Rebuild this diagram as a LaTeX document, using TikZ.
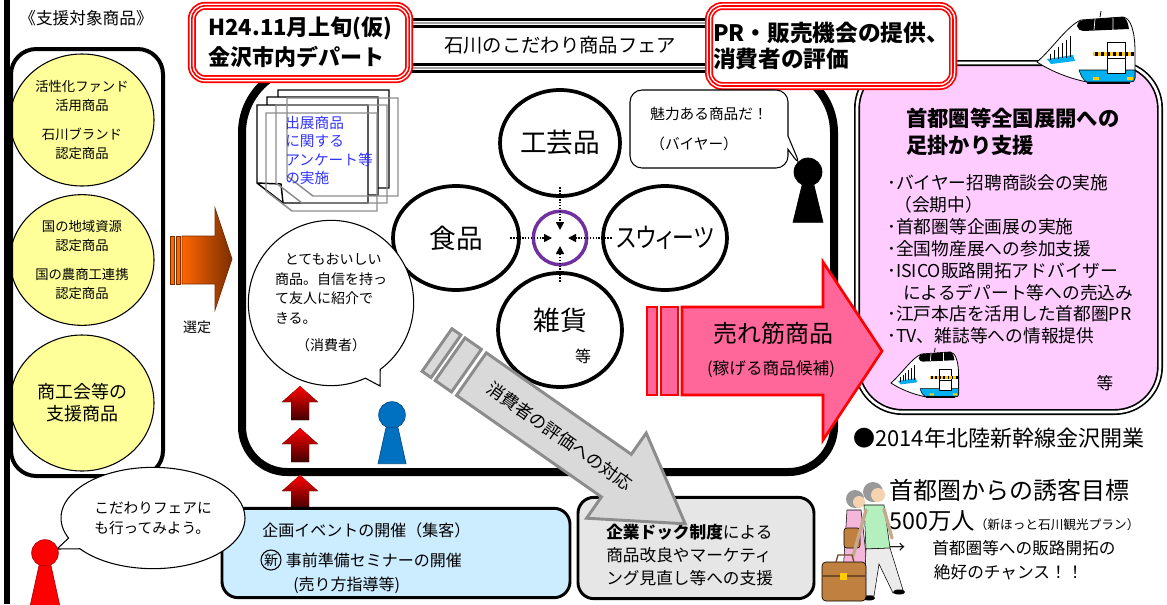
\documentclass[tikz,border=0pt]{standalone}
\usepackage{fontspec}
\usepackage{graphicx}
\setmainfont{Noto Sans CJK JP}
\usetikzlibrary{positioning,shapes.geometric,shapes.callouts,arrows.meta,calc}

\newcommand\fsz[2]{\fontsize{#1}{#2}\selectfont}

\definecolor{fairred}{HTML}{FF0000}
\definecolor{lemon}{HTML}{FFFF99}
\definecolor{lilac}{HTML}{FFCCFF}
\definecolor{hotpink}{HTML}{FF6699}
\definecolor{icefill}{HTML}{CCECFF}
\definecolor{dockfill}{HTML}{E6E6E6}
\definecolor{arrowgrey}{HTML}{D9D9D9}
\definecolor{arrowedge}{HTML}{8C8C8C}
\definecolor{ringpurple}{HTML}{7030A0}
\definecolor{memoblue}{HTML}{3333FF}
\definecolor{pawnblue}{HTML}{0070C0}
\definecolor{rust}{HTML}{FF6600}
\definecolor{darkrust}{HTML}{7A2E00}
\definecolor{bellycyan}{HTML}{00B0F0}
\definecolor{lampyellow}{HTML}{FFCC00}
\definecolor{skin}{HTML}{F5D3B0}
\definecolor{leather}{HTML}{C08040}
\definecolor{shirtgreen}{HTML}{B4F0BE}
\definecolor{dresspink}{HTML}{F4B6D9}

% bullet train, nose at #1, scaled by #2
\newcommand\bullettrain[2]{%
  \begin{scope}[shift={(#1)},scale=#2]
    \filldraw[fill=white,line width=0.6pt] (0,0) .. controls (16,-14) and (30,-36) .. (44,-42)
      -- (86,-45) .. controls (94,-44) and (98,-30) .. (98,-10) -- (98,16)
      .. controls (98,19) and (96,20) .. (93,20) -- (50,20) .. controls (30,16) and (12,8) .. cycle;
    \fill (40,-36) .. controls (41,-40) and (43,-42) .. (46,-42) -- (86,-45)
      .. controls (89,-44) and (91,-40) .. (92,-33) -- (46,-31) .. controls (43,-31) and (41,-33) .. cycle;
    \draw[white,line width=0.5pt] (58,-43) -- (57,-32) (76,-44) -- (76,-32);
    \filldraw[fill=bellycyan,line width=0.4pt] (42,8) -- (98,8) -- (98,16)
      .. controls (98,19) and (96,20) .. (93,20) -- (50,20) .. controls (46,18) and (44,14) .. cycle;
    \fill[bellycyan] (10,-3) -- (36,-7) -- (38,-1) -- (14,2) -- cycle;
    \foreach \g in {13,17,...,33}
      \draw[line width=0.3pt] (\g,{-2-0.15*(\g-13)}) -- (\g,{-8-0.9*(\g-13)});
    \filldraw[fill=white,line width=0.5pt] (70,-20) rectangle (88,11);
    \draw[line width=0.4pt] (70,-4) -- (88,-4);
    \fill[lampyellow] (56,-10) rectangle (96,-6);
    \foreach \g in {58,64,...,94} \fill (\g,-10) rectangle ++(2.5,4);
    \fill[lampyellow] (56,15) rectangle (62,18) (90,15) rectangle (96,18);
    \draw[line width=1.5pt] (50,21) -- (93,21);
    \draw[line width=0.6pt] (63,-45) -- (64,-51);
  \end{scope}}

\begin{document}
\begin{tikzpicture}[x=0.75pt,y=-0.75pt,
  every node/.style={inner sep=0pt,font=\fsz{11}{15}},
  hdrbox/.style={draw=fairred,line width=6pt,fill=white,rounded corners=10pt,
    postaction={draw=white,line width=3.4pt},postaction={draw=fairred,line width=1.2pt},
    align=left},
  candy/.style={ellipse,draw,line width=0.8pt,fill=lemon,align=center,
    minimum width=108pt,font=\fsz{10}{14.3}},
  genre/.style={ellipse,draw,line width=2.8pt,fill=white},
  genrename/.style={font=\fsz{20}{24}},
  dotflow/.style={densely dotted,line width=1.2pt,-{Triangle[length=6pt,width=6pt]}},
  talk/.style={draw,line width=0.8pt,fill=white,align=left},
  pawnhead/.style={circle,fill=#1,draw=#1!70!black,line width=0.5pt,minimum size=20pt},
  pawnbody/.style={fill=#1,draw=#1!70!black,line width=0.5pt},
  boost/.style={top color=red,middle color=red!85!black,bottom color=red!25!black,draw=none},
  panel/.style={draw,line width=2.2pt,rounded corners=12pt},
]
\fill[white] (0,0) rectangle (1167,604);
\useasboundingbox (0,0) rectangle (1167,604);

% left rule
\draw[line width=4.5pt] (7,0) -- (7,604);

% supported products
\node (pooltitle) at (86,18) {\fsz{12.5}{14}《支援対象商品》};
\node[candy,minimum height=99pt] (fund) at (82,120)
  {活性化ファンド\\活用商品\\[8pt]石川ブランド\\認定商品};
\node[candy,minimum height=98pt] (region) at (82,260)
  {国の地域資源\\認定商品\\[8pt]国の農商工連携\\認定商品};
\node[candy,minimum height=102pt,font=\fsz{13.5}{16.5}] (chamber) at (82,403)
  {商工会等の\\支援商品};
\draw[line width=3pt,rounded corners=19pt] (11,49) rectangle (163,476);

% selection arrow
\foreach \sx in {170,176}
  \draw[draw=darkrust,fill=rust,line width=0.5pt] (\sx,236) rectangle ++(4,48);
\draw[left color=rust,right color=darkrust,draw=darkrust,line width=0.5pt]
  (182,236) -- (215,236) -- (215,208) -- (232,259) -- (215,310) -- (215,284) -- (182,284) -- cycle;
\node (pick) at (197,327) {\fsz{10.5}{12}選定};

% fair venue
\draw[line width=6pt,fill=white] (242,300) [rounded corners=50pt] -- (242,66) -- (834,66) -- (834,300)
  [rounded corners=34pt] -- (834,472) -- (242,472) -- cycle;

% nationwide support panel
\draw[fill=lilac,line width=4.5pt,rounded corners=34pt] (857,63) rectangle (1160,412);
\draw[white,line width=2pt,rounded corners=34pt] (857,63) rectangle (1160,412);
\node[anchor=west,align=left,font=\bfseries\fsz{16}{20.3}] (reach) at (906,131.5)
  {首都圏等全国展開への\\足掛かり支援};
\node[anchor=west,align=left,font=\fsz{13.3}{16.4}] (menu) at (887,259.5)
  {･バイヤー招聘商談会の実施\\\hspace*{0.4em}（会期中）\\･首都圏等企画展の実施\\･全国物産展への参加支援\\･ISICO販路開拓アドバイザー\\\hspace*{0.9em}によるデパート等への売込み\\･江戸本店を活用した首都圏PR\\･TV、雑誌等への情報提供};
\node[font=\fsz{12.5}{14}] (menuetc) at (1105,383) {等};
\bullettrain{891,383}{0.69}

% best sellers
\foreach \sx/\sw in {647/10,661/17}
  \draw[fairred,fill=hotpink,line width=2pt] (\sx,307) rectangle ++(\sw,88);
\draw[fairred,fill=hotpink,line width=2pt]
  (682,307) -- (823,307) -- (823,262) -- (882,351) -- (823,440) -- (823,395) -- (682,395) -- cycle;
\node[font=\fsz{18}{20}] (hit) at (773,333) {売れ筋商品};
\node[font=\fsz{12.5}{14}] (hitnote) at (771,369) {(稼げる商品候補)};

% fair banner
\fill[white] (410,18) rectangle (709,73);
\foreach \ly/\lw/\lc in {19.5/2.2pt/black,23/2.2pt/black!35,26.5/2pt/black,64.5/2pt/black,68/2.2pt/black!35,71.5/2.2pt/black}
  \draw[draw=\lc,line width=\lw] (410,\ly) -- (709,\ly);
\node[font=\fsz{14.5}{17}] (fair) at (560,45) {石川のこだわり商品フェア};
\node[hdrbox,minimum width=163pt,minimum height=55pt,font=\bfseries\fsz{16.5}{22.5}] (when) at (300.5,42.5)
  {H24.11月上旬(仮)\\金沢市内デパート};
\node[hdrbox,minimum width=183pt,minimum height=60pt,font=\bfseries\fsz{17}{20}] (stage) at (831,46)
  {PR・販売機会の提供、\\消費者の評価};
\bullettrain{1037,62}{1}

% questionnaire sheets
\foreach \dx/\dy in {21/-15,10/-8,0/0}
  \draw[fill=white,line width=1.1pt,shift={(\dx,\dy)}]
    (257,105) -- (368,105) -- (368,203) -- (283,203) -- (257,183) -- cycle
    (257,183) -- (281,184) -- (283,203);
\foreach \dx/\dy in {21/-15,10/-8,0/0}
  \draw[black!45,line width=1.1pt,shift={(\dx+9,\dy+8)}]
    (257,105) -- (368,105) -- (368,203) -- (283,203) -- (257,183) -- cycle;
\node[anchor=west,align=left,text=memoblue,font=\fsz{11}{13.8}] (memo) at (285,150.5)
  {出展商品\\に関する\\アンケート等\\の実施};

% product genres
\node[genre,minimum width=90pt,minimum height=79.5pt] (craft) at (560,143) {};
\node[genre,minimum width=94.5pt,minimum height=78pt] (food) at (456,238) {};
\node[genre,minimum width=93pt,minimum height=78pt] (sweets) at (665,238) {};
\node[genre,minimum width=93pt,minimum height=85.5pt] (goods) at (560,330) {};
\node[genrename] (craftname) at (craft) {工芸品};
\node[genrename] (foodname) at (food) {食品};
\node[genrename] (sweetsname) at (sweets)
  {\addfontfeatures{RawFeature=+palt}\scalebox{0.82}[1]{スウィーツ}};
\node[genrename] (goodsname) at (560,320) {雑貨};
\node[font=\fsz{12}{14}] (goodsetc) at (583,356) {等};
\node[circle,draw=ringpurple,line width=2.6pt,minimum size=40pt] (ring) at (560,238) {};
\draw[dotflow] ([xshift=-8pt]food.east) -- ([xshift=-6pt]ring.center);
\draw[dotflow] ([xshift=8pt]sweets.west) -- ([xshift=6pt]ring.center);
\draw[dotflow] ([yshift=8pt]craft.south) -- ([yshift=6pt]ring.center);
\draw[dotflow] ([yshift=-8pt]goods.north) -- ([yshift=-6pt]ring.center);

% voices
\node[talk,ellipse callout,callout absolute pointer={(380,386)},callout pointer arc=12,
  minimum width=124pt,minimum height=124pt,font=\fsz{10.5}{14.6}] (voice) at (331,303)
  {\hspace*{0.7em}とてもおいしい\\商品。自信を持っ\\て友人に紹介で\\きる。\\[6pt]\hspace*{1.5em}（消費者）};
\node[talk,rectangle callout,rounded corners=9pt,callout absolute pointer={(801,167)},
  callout pointer width=10pt,minimum width=118.5pt,minimum height=58.5pt,
  font=\fsz{11}{22.5}] (buyervoice) at (709,129) {魅力ある商品だ！\\（バイヤー）};

% buyer and consumer
\node[pawnhead=black,minimum size=21pt] (buyer) at (808,172) {};
\filldraw[pawnbody=black] ($(buyer.south)+(-6,-1)$) -- ($(buyer.south)+(6,-1)$)
  -- ($(buyer.south)+(15,36)$) -- ($(buyer.south)+(-15,36)$) -- cycle;
\node[pawnhead=pawnblue] (shopper) at (392,415) {};
\filldraw[pawnbody=pawnblue] ($(shopper.south)+(-6,-1)$) -- ($(shopper.south)+(6,-1)$)
  -- ($(shopper.south)+(14,35)$) -- ($(shopper.south)+(-14,35)$) -- cycle;

% company dock support
\node[panel,fill=dockfill,minimum width=177pt,minimum height=76pt] (dock) at (696,548) {};
\node[anchor=west,align=left,font=\fsz{12.5}{17.3}] (docktext) at (606,555)
  {\textbf{企業ドック制度}による\\商品改良やマーケティ\\ング見直し等への支援};

% response to consumer feedback
\begin{scope}[shift={(437,350)},rotate=-35]
  \filldraw[fill=arrowgrey,draw=arrowedge,line width=2.2pt]
    (0,-26) rectangle (11,26) (16,-26) rectangle (36,26);
  \filldraw[fill=arrowgrey,draw=arrowedge,line width=2.2pt]
    (42,-26) -- (219,-26) -- (219,-52) -- (303,0) -- (219,52) -- (219,26) -- (42,26) -- cycle;
  \node[rotate=-35,font=\fsz{13}{15}] (reply) at (150,0) {消費者の評価への対応};
\end{scope}

% flow into the fair
\foreach \ty in {386,428,475}
  \fill[boost] (300,\ty) -- (318,\ty+16) -- (309,\ty+16) -- (309,\ty+34)
    -- (291,\ty+34) -- (291,\ty+16) -- (282,\ty+16) -- cycle;

% planned events
\node[panel,fill=icefill,minimum width=261pt,minimum height=67pt] (event) at (396,553) {};
\node[anchor=west,font=\fsz{12}{14}] (eventtitle) at (262,530) {企画イベントの開催（集客）};
\node[circle,draw,line width=0.8pt,minimum size=15pt,font=\fsz{10.5}{12}] (newmark) at (271,560) {新};
\node[right=3pt of newmark,font=\fsz{12}{14}] (seminar) {事前準備セミナーの開催};
\node[anchor=west,font=\fsz{12}{14}] (seminarnote) at (293,585) {(売り方指導等)};

% passer-by
\node[talk,ellipse callout,callout absolute pointer={(57,549)},callout pointer arc=14,
  minimum width=138pt,minimum height=76pt,font=\fsz{11}{15}] (invite) at (153,518)
  {こだわりフェアに\\も行ってみよう。};
\node[pawnhead=red] (walker) at (45,553) {};
\filldraw[pawnbody=red] ($(walker.south)+(-6,-1)$) -- ($(walker.south)+(6,-1)$)
  -- ($(walker.south)+(15,40)$) -- ($(walker.south)+(-15,40)$) -- cycle;

% shinkansen opening
\node[anchor=west,font=\fsz{16.5}{18}] (opening) at (853,438) {●2014年北陸新幹線金沢開業};
\node[anchor=west,font=\fsz{18}{20}] (target) at (889,490) {首都圏からの誘客目標};
\node[anchor=west] (goal) at (889,521) {\fsz{17.5}{20}500万人\fsz{9.5}{12}（新ほっと石川観光プラン）};
\node[font=\fsz{12.5}{14}] (arrowmark) at (897,548) {→};
\node[anchor=west,align=left,font=\fsz{12.5}{18}] (chance) at (932,560)
  {首都圏等への販路開拓の\\\hspace*{0.1em}絶好のチャンス！！};

% travelling couple
\fill[black!40] (855,499) circle[radius=9];
\fill[skin] (859,502) circle[radius=6];
\filldraw[fill=dresspink,line width=0.4pt] (847,510) -- (861,510) -- (868,572) -- (843,574) -- cycle;
\draw[skin!70!black,line width=2pt] (849,574) -- (847,594) (861,573) -- (865,594);
\filldraw[fill=leather,line width=0.4pt,rounded corners=2pt] (844,528) rectangle (860,548);
\fill[black!40] (873,492) circle[radius=10];
\fill[skin] (878,495) circle[radius=7];
\filldraw[fill=shirtgreen,line width=0.4pt] (864,505) -- (884,505) -- (890,548) -- (866,549) -- cycle;
\filldraw[fill=black!8,line width=0.4pt] (866,549) -- (890,548) -- (903,590) -- (893,593)
  -- (879,564) -- (874,596) -- (864,596) -- cycle;
\fill (869,598) ellipse[x radius=6,y radius=2.5] (899,592) ellipse[x radius=6,y radius=2.5];
\draw[skin!80!black,line width=2.5pt,line cap=round] (884,509) -- (892,538) (866,510) -- (853,556);
\filldraw[fill=leather,line width=0.5pt,rounded corners=3pt] (822,562) rectangle (866,601);
\draw[leather!60!black,line width=1pt] (836,562) -- (838,555) -- (852,555) -- (854,562);
\draw[leather!60!black,line width=1pt] (822,576) -- (866,576);
\fill[lampyellow] (840,573) rectangle (847,580);
\end{tikzpicture}
\end{document}
